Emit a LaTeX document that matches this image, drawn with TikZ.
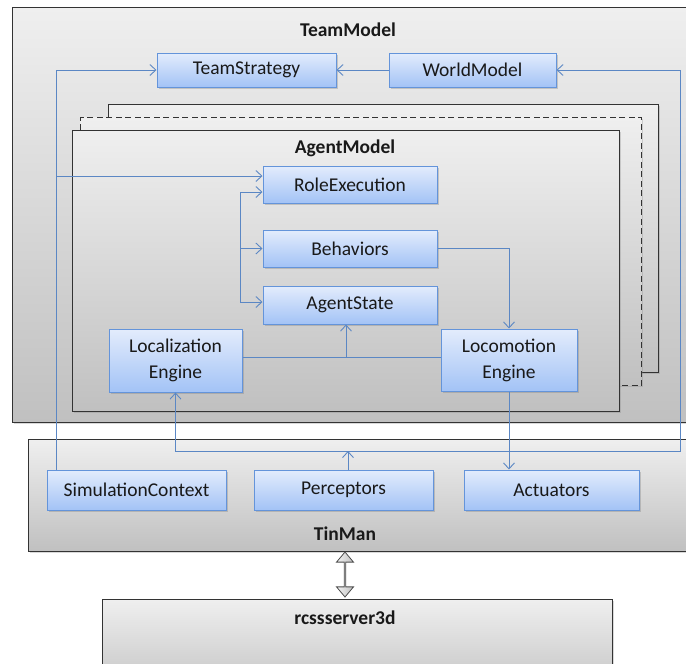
\documentclass[tikz,border=0pt]{standalone}
\usepackage{fontspec}
\setmainfont{Carlito}
\usetikzlibrary{shadows,arrows.meta,shapes.arrows}
\definecolor{lineblue}{HTML}{5B87C4}
\definecolor{boxtop}{HTML}{E3ECFC}
\definecolor{boxbot}{HTML}{A3C3F6}
\definecolor{boxdraw}{HTML}{6494DA}
\definecolor{ctop}{HTML}{EFEFEF}
\definecolor{cbot}{HTML}{C0C0C0}
\begin{document}
\begin{tikzpicture}[x=1pt,y=-1pt,
 comp/.style={rectangle, draw=boxdraw, line width=1pt, top color=boxtop, bottom color=boxbot,
   inner sep=0pt, align=center, text=black!90, font=\fontsize{19.5}{26}\selectfont,
   drop shadow={shadow xshift=1.5pt, shadow yshift=-1.8pt, opacity=0.35}},
 cont/.style={rectangle, draw=black!80, line width=1.2pt, top color=ctop, bottom color=cbot,
   inner sep=0pt, anchor=north west,
   drop shadow={shadow xshift=1.5pt, shadow yshift=-1.5pt, opacity=0.3}},
 ttl/.style={font=\fontsize{19.5}{22}\selectfont\bfseries, text=black!90},
 conn/.style={draw=lineblue, line width=0.9pt},
 tip/.style={-{Straight Barb[length=6pt,width=11pt]}},
 tips/.style={{Straight Barb[length=6pt,width=11pt]}-{Straight Barb[length=6pt,width=11pt]}},
]
\useasboundingbox (0,0) rectangle (686,664);
\clip (0,0) rectangle (686,664);
% containers
\node[cont, minimum width=700pt, minimum height=415pt] (tm) at (12,7) {};
\node[ttl] (tmt) at (348,30) {TeamModel};
\node[cont, minimum width=550pt, minimum height=268pt] (back) at (108,104) {};
\node[cont, dash pattern=on 6pt off 3.5pt, minimum width=561pt, minimum height=268pt] (dash) at (80,117) {};
\node[cont, minimum width=547pt, minimum height=281pt] (am) at (72,130) {};
\node[ttl] (amt) at (345,148) {AgentModel};
\node[cont, minimum width=700pt, minimum height=112pt] (tin) at (28,439) {};
\node[ttl] (tint) at (345,534) {TinMan};
\node[cont, minimum width=510pt, minimum height=100pt] (rcs) at (102,599) {};
\node[ttl] (rcst) at (345,618) {rcssserver3d};
% components
\node[comp, minimum width=179pt, minimum height=34pt] (ts) at (246.5,70) {TeamStrategy};
\node[comp, minimum width=167pt, minimum height=34pt] (wm) at (472.5,70) {WorldModel};
\node[comp, minimum width=174pt, minimum height=37pt] (re) at (350,184.5) {RoleExecution};
\node[comp, minimum width=174pt, minimum height=37pt] (be) at (350,248.5) {Behaviors};
\node[comp, minimum width=174pt, minimum height=38pt] (as) at (350,305) {AgentState};
\node[comp, minimum width=133pt, minimum height=63pt] (le) at (175.5,360.5) {Localization\\Engine};
\node[comp, minimum width=136pt, minimum height=62pt] (lo) at (509,360) {Locomotion\\Engine};
\node[comp, minimum width=179pt, minimum height=40pt] (sc) at (136.5,490) {SimulationContext};
\node[comp, minimum width=179pt, minimum height=40pt] (pe) at (343.5,490) {Perceptors};
\node[comp, minimum width=175pt, minimum height=40pt] (ac) at (551.5,490) {Actuators};
% double arrow
\node[double arrow, draw=black!70, line width=0.8pt, left color=gray!10, right color=gray!50,
  rotate=90, minimum height=45pt, minimum width=17pt, double arrow head extend=4pt,
  double arrow tip angle=80, inner sep=0pt] (dbl) at (345,574.5) {};
% connectors
\coordinate (l1) at (56,70);
\coordinate (l2) at (56,176);
\coordinate (bR) at (680,451);
\coordinate (v1) at (240,192);
\coordinate (v2) at (240,302);
\coordinate (v3) at (240,248.5);
\coordinate (br) at (346,357.5);
\coordinate (pt) at (348,470);
\draw[conn,tip] (sc.north -| l1) -- (l1) -- (ts.west);
\draw[conn,tip] (l2) -- (l2 -| re.west);
\draw[conn,tip] (wm.west) -- (ts.east);
\draw[conn,tips] (le.south) -- (le.south |- bR) -- (bR) -- (bR |- wm.east) -- (wm.east);
\draw[conn,tip] (pt) -- (pt |- bR);
\draw[conn,tip] (lo.south) -- (lo.south |- ac.north);
\draw[conn,tip] (be.east) -- (be.east -| lo.north) -- (lo.north);
\draw[conn] (le.east |- br) -- (lo.west |- br);
\draw[conn,tip] (br) -- (br |- as.south);
\draw[conn,tips] (v1 -| re.west) -- (v1) -- (v2) -- (v2 -| as.west);
\draw[conn,tip] (v3) -- (be.west);
\end{tikzpicture}
\end{document}
